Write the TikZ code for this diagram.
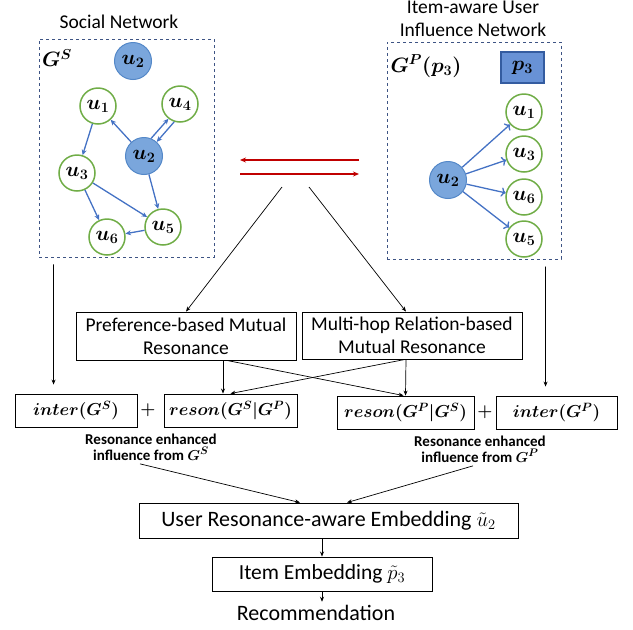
\documentclass[tikz,border=0pt]{standalone}
\usepackage{amsmath,bm}
\usepackage{fontspec}
\setmainfont{Carlito}
\usetikzlibrary{arrows.meta}

\definecolor{usergreen}{RGB}{112,173,71}
\definecolor{focusfill}{RGB}{122,166,220}
\definecolor{focusline}{RGB}{84,136,200}
\definecolor{edgeblue}{RGB}{68,114,196}
\definecolor{netdash}{RGB}{62,84,132}
\definecolor{itemfill}{RGB}{104,146,214}
\definecolor{itemline}{RGB}{52,92,160}
\definecolor{swapred}{RGB}{192,0,0}

\tikzset{
  user/.style={circle, draw=usergreen, line width=1.5pt, fill=white, minimum size=36pt, inner sep=0pt, font=\fontsize{21}{21}\selectfont},
  focus/.style={circle, draw=focusline, line width=1pt, fill=focusfill, minimum size=37pt, inner sep=0pt, font=\fontsize{21}{21}\selectfont},
  item/.style={draw=itemline, line width=1.2pt, fill=itemfill, minimum width=43pt, minimum height=31pt, inner sep=0pt, font=\fontsize{21}{21}\selectfont},
  infl/.style={-{Stealth[length=5.5pt,width=5pt]}, draw=edgeblue, line width=1.3pt},
  netbox/.style={draw=netdash, dashed, line width=0.8pt},
  stage/.style={draw, line width=0.9pt, inner sep=0pt, align=center},
  swap/.style={-{Stealth[length=6pt,width=5pt]}, draw=swapred, line width=1.8pt},
  flow/.style={-{Stealth[length=5pt,width=4pt]}, line width=0.7pt},
}

\begin{document}
\begin{tikzpicture}[x=1pt,y=-1pt,font=\fontsize{19.5}{23}\selectfont]
\useasboundingbox (0,0) rectangle (633,630);

% the two networks
\node (gS) at (126.5,148) [netbox, minimum width=175pt, minimum height=218pt] {};
\node (gP) at (474,150.5) [netbox, minimum width=174pt, minimum height=217pt] {};
\node (tS) at (119,22) {Social Network};
\node (tP) at (473,19) [align=center] {Item-aware User\\Influence Network};
\node (lS) at (57,58) [font=\fontsize{20}{20}\selectfont] {$\bm{G^S}$};
\node (lP) at (426,66) [font=\fontsize{20}{20}\selectfont] {$\bm{G^P(p_3)}$};

% social network
\node (sTop) at (133,61)  [focus] {$\bm{u_2}$};
\node (sU1)  at (98,106)  [user]  {$\bm{u_1}$};
\node (sU4)  at (180,104) [user]  {$\bm{u_4}$};
\node (sU2)  at (144,156) [focus] {$\bm{u_2}$};
\node (sU3)  at (77,173)  [user]  {$\bm{u_3}$};
\node (sU5)  at (163,227) [user]  {$\bm{u_5}$};
\node (sU6)  at (107,237) [user]  {$\bm{u_6}$};
\draw[infl] (sU2) -- (sU1);
\draw[infl] (sU1) -- (sU3);
\draw[infl] (sU2.68) -- (sU4.232);
\draw[infl] (sU4.252) -- (sU2.48);
\draw[infl] (sU2) -- (sU5);
\draw[infl] (sU3) -- (sU5);
\draw[infl] (sU3) -- (sU6);
\draw[infl] (sU5) -- (sU6);

% item-aware influence network
\node (p3)  at (522.5,67.5) [item] {$\bm{p_3}$};
\node (pU2) at (448,180) [focus] {$\bm{u_2}$};
\foreach \n/\y in {1/112, 3/154, 6/197, 5/239}
  \node (pU\n) at (524,\y) [user] {$\bm{u_{\n}}$} edge [infl, <-] (pU2);

% mutual exchange
\coordinate (swapA) at (240,160);
\coordinate (swapB) at (359,160);
\coordinate (swapC) at (240,174);
\coordinate (swapD) at (359,174);
\draw[swap] (swapB) -- (swapA);
\draw[swap] (swapC) -- (swapD);
\coordinate (forkL) at (282,187);
\coordinate (forkR) at (309,187);

% resonance modules
\node (pref)  at (186,336)   [stage, minimum width=220pt, minimum height=48pt] {Preference-based Mutual\\Resonance};
\node (multi) at (412,335.5) [stage, minimum width=220pt, minimum height=47pt] {Multi-hop Relation-based\\Mutual Resonance};
\draw[flow] (forkL) -- (pref.north);
\draw[flow] (forkR) -- ([xshift=-6pt]multi.north);

% influence terms
\begin{scope}[font=\fontsize{18.5}{19}\selectfont]
\node (inter1) at (76,410.5)    [stage, minimum width=122pt, minimum height=33pt] {$\bm{inter(G^S)}$};
\node (plus1)  at (148,410)     {$\bm{+}$};
\node (reson1) at (230.5,410.5) [stage, minimum width=133pt, minimum height=33pt] {$\bm{reson(G^S|G^P)}$};
\node (reson2) at (405.5,412.5) [stage, minimum width=137pt, minimum height=33pt] {$\bm{reson(G^P|G^S)}$};
\node (plus2)  at (485,412)     {$\bm{+}$};
\node (inter2) at (556.5,412.5) [stage, minimum width=121pt, minimum height=33pt] {$\bm{inter(G^P)}$};
\end{scope}
\draw[flow, shorten <=7pt, shorten >=9pt] ([xshift=15pt]gS.south west) -- ([xshift=39pt]inter1.north west);
\draw[flow, shorten <=7pt, shorten >=9pt] ([xshift=159pt]gP.south west) -- ([xshift=50pt]inter2.north west);
\draw[flow] ([xshift=37pt]pref.south) -- ([xshift=-7.5pt]reson1.north);
\draw[flow] ([xshift=41pt]pref.south) -- ([xshift=-2pt]reson2.north);
\draw[flow] ([xshift=-6pt]multi.south) -- (reson2.north);
\draw[flow] ([xshift=-7pt]multi.south) -- (reson1.north);

\node (resS) at (151,447) [align=center, font=\bfseries\fontsize{15}{16}\selectfont] {Resonance enhanced\\influence from $\bm{G^S}$};
\node (resP) at (480,449) [align=center, font=\bfseries\fontsize{15}{16}\selectfont] {Resonance enhanced\\influence from $\bm{G^P}$};

% embeddings
\node (user) at (328.5,520.5) [stage, minimum width=379pt, minimum height=35pt, font=\fontsize{22}{22}\selectfont] {User Resonance-aware Embedding $\tilde{u}_2$};
\node (item) at (322,574) [stage, minimum width=220pt, minimum height=34pt, font=\fontsize{21.5}{22}\selectfont] {Item Embedding $\tilde{p}_3$};
\node (rec)  at (316,613) [font=\fontsize{22}{22}\selectfont] {Recommendation};
\draw[flow] ([xshift=-11pt]resS.south) -- ([xshift=-28.5pt]user.north);
\draw[flow] ([xshift=-7pt]resP.south) -- ([xshift=18.5pt]user.north);
\draw[flow] (user.south -| item.north) -- (item.north);
\draw[flow] (item.south) -- (item.south |- rec.north);
\end{tikzpicture}
\end{document}
